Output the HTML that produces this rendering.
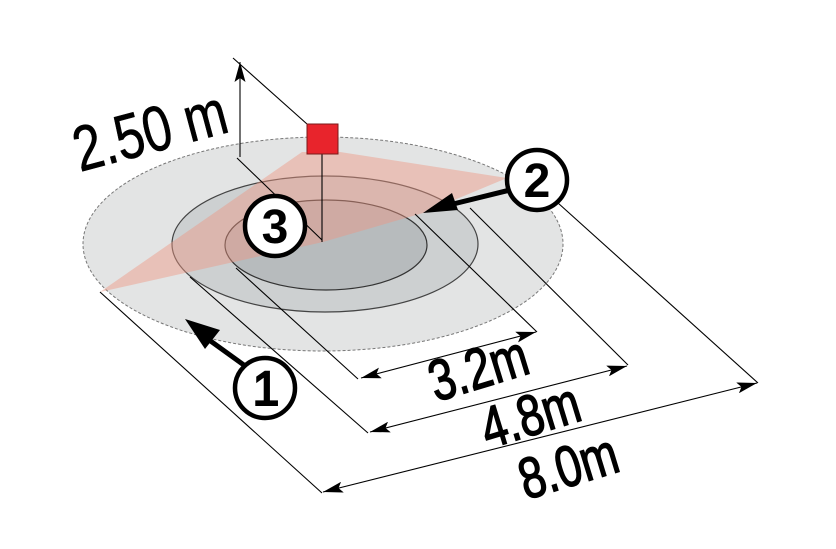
<!DOCTYPE html>
<html><head><meta charset="utf-8"><style>
html,body{margin:0;padding:0;background:#fff;}
svg{display:block;}
text{font-family:"Liberation Sans",sans-serif;}
</style></head><body>
<svg width="836" height="549" viewBox="0 0 836 549" xmlns="http://www.w3.org/2000/svg">
<defs>
<marker id="ah" viewBox="0 0 10 10" refX="10" refY="5" markerWidth="20" markerHeight="11" markerUnits="userSpaceOnUse" orient="auto-start-reverse" preserveAspectRatio="none">
<path d="M0,0 L10,5 L0,10 L2,5 Z" fill="#000"/></marker>
</defs>
<rect width="836" height="549" fill="#fff"/>
<ellipse cx="323" cy="244" rx="240" ry="107" fill="#e3e4e4" stroke="#777" stroke-width="1" stroke-dasharray="3,2"/>
<ellipse cx="325" cy="244" rx="153" ry="68" fill="#cdd0d1" stroke="#444" stroke-width="1.2"/>
<ellipse cx="326" cy="245" rx="101" ry="45" fill="#b7bbbd" stroke="#333" stroke-width="1.2"/>
<polygon points="302,152 340,152 507,178 423,213 323,242 100,292" fill="rgba(238,150,130,0.45)"/>
<g stroke="#000" stroke-width="1.1" fill="none">
<line x1="233" y1="58" x2="307" y2="124"/>
<line x1="237" y1="158" x2="322" y2="240"/>
<line x1="100" y1="292" x2="322" y2="493"/>
<line x1="190" y1="277" x2="368" y2="433"/>
<line x1="236" y1="268" x2="358" y2="379"/>
<line x1="415" y1="214" x2="537" y2="332"/>
<line x1="470" y1="208" x2="628" y2="365"/>
<line x1="558" y1="203" x2="758" y2="383"/>
<line x1="240" y1="157" x2="240" y2="62" marker-end="url(#ah)"/>
<line x1="361" y1="378" x2="536" y2="332" marker-start="url(#ah)" marker-end="url(#ah)"/>
<line x1="370" y1="432" x2="627" y2="366" marker-start="url(#ah)" marker-end="url(#ah)"/>
<line x1="323" y1="492" x2="757" y2="383" marker-start="url(#ah)" marker-end="url(#ah)"/>
<line x1="322" y1="154" x2="322" y2="242"/>
</g>
<rect x="307" y="124" width="31" height="30" fill="#e8242c" stroke="#7a1a1a" stroke-width="1"/>
<line x1="510" y1="190" x2="445" y2="206" stroke="#000" stroke-width="5"/>
<polygon points="423,213 452,193 458,210" fill="#000"/>
<line x1="248" y1="368" x2="205" y2="337" stroke="#000" stroke-width="5"/>
<polygon points="185,319 220,330 205,349" fill="#000"/>
<g fill="#fff" stroke="#000" stroke-width="4.5">
<circle cx="537" cy="180" r="30"/>
<circle cx="275" cy="226" r="30"/>
<circle cx="265" cy="388" r="30"/>
</g>
<g font-weight="bold" font-size="48" text-anchor="middle">
<text x="537" y="197">2</text>
<text x="275" y="243">3</text>
<text x="266" y="405" font-weight="normal" stroke="#000" stroke-width="2">1</text>
</g>
<text transform="translate(80,172) rotate(-15) scale(0.8,1)" font-size="64" stroke="#000" stroke-width="0.6">2.50 m</text>
<g stroke="#000" stroke-width="1.4">
<text transform="translate(436,402) rotate(-17) scale(0.78,1)" font-size="58">3.2m</text>
<text transform="translate(488,449) rotate(-17) scale(0.78,1)" font-size="58">4.8m</text>
<text transform="translate(526,500) rotate(-17) scale(0.78,1)" font-size="58">8.0m</text>
</g>
</svg>
</body></html>
